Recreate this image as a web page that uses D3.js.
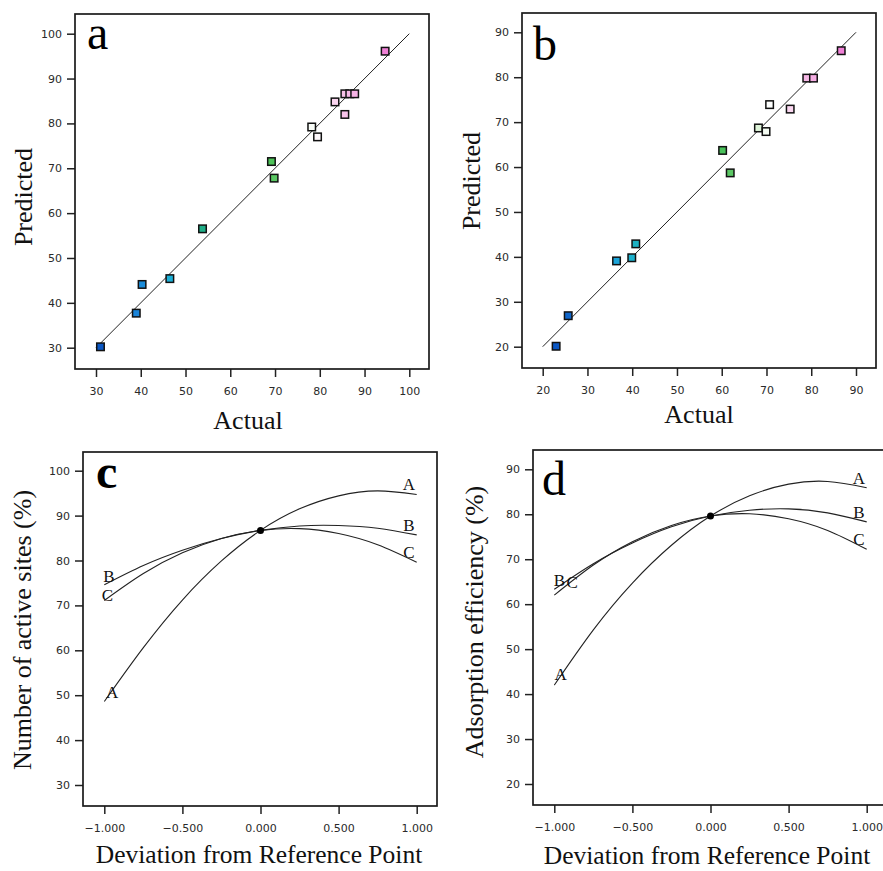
<!DOCTYPE html>
<html>
<head>
<meta charset="utf-8">
<script src="https://cdn.jsdelivr.net/npm/d3@7"></script>
<style>
  body { margin: 0; background: #fff; }
  .tick text { font-family: "DejaVu Sans", sans-serif; font-size: 11px; fill: #2a2a2a; }
  .tick line { stroke: #222; stroke-width: 1.5; }
  .title { font-family: "Liberation Serif", "Times New Roman", serif; font-size: 26px; fill: #111; }
  .letter { font-family: "Liberation Serif", "Times New Roman", serif; font-size: 48px; fill: #000; }
  .clabel { font-family: "Liberation Serif", "Times New Roman", serif; font-size: 17px; fill: #111; }
</style>
</head>
<body>
<script>
// DATA ------------------------------
// panel a : actual vs predicted
const actualA    = [31.0, 39.0, 40.3, 46.5, 53.8, 69.2, 69.8, 78.2, 79.5, 83.4, 85.6, 85.6, 86.7, 87.8, 94.6];
const predictedA = [30.2, 37.7, 44.1, 45.4, 56.5, 71.5, 67.8, 79.2, 77.0, 84.8, 82.0, 86.6, 86.6, 86.6, 96.1];
const fitA = [30, 100];
const ticksA = [30, 40, 50, 60, 70, 80, 90, 100];

// panel b : actual vs predicted
const actualB    = [23.0, 25.7, 36.5, 39.9, 40.8, 60.2, 61.9, 68.2, 69.9, 70.7, 75.3, 79.0, 80.5, 86.7];
const predictedB = [20.1, 26.9, 39.1, 39.8, 42.9, 63.7, 58.7, 68.7, 67.9, 73.9, 72.9, 79.8, 79.8, 85.9];
const fitB = [20, 90];
const ticksB = [20, 30, 40, 50, 60, 70, 80, 90];

// panels c, d : perturbation curves
const deviation = [-1, -0.75, -0.5, -0.25, 0, 0.25, 0.5, 0.75, 1];
const sitesA = [48.6, 60.6, 71.2, 79.9, 86.7, 91.5, 94.4, 95.5, 94.7];
const sitesB = [74.6, 78.9, 82.3, 84.9, 86.7, 87.7, 87.8, 87.2, 85.7];
const sitesC = [71.1, 77.1, 81.7, 84.9, 86.7, 87.1, 86.0, 83.5, 79.6];
const effA = [42.0, 54.3, 64.7, 73.1, 79.6, 84.1, 86.7, 87.3, 85.9];
const effB = [63.3, 69.0, 73.6, 77.2, 79.6, 80.9, 81.2, 80.3, 78.3];
const effC = [62.0, 68.7, 73.9, 77.5, 79.6, 80.1, 79.0, 76.4, 72.2];
const factors = ["A", "B", "C"];
const ticksDev = [-1, -0.5, 0, 0.5, 1];
const ticksSites = [30, 40, 50, 60, 70, 80, 90, 100];
const ticksEff = [20, 30, 40, 50, 60, 70, 80, 90];

// CHART ------------------------------
const svg = d3.select("body").append("svg")
    .attr("width", 883)
    .attr("height", 871);

svg.append("rect").attr("width", 883).attr("height", 871).attr("fill", "#fff");

// colour gradient used for the design points (low -> high)
const pointColor = d3.scaleLinear()
    .domain([0, 0.13, 0.25, 0.36, 0.6, 0.7, 0.75, 0.85, 1])
    .range(["#0b57c4", "#1a86da", "#1cb2d8", "#1fae86", "#4cc257", "#d6f2d0", "#ffffff", "#f8c6ea", "#ef80d6"]);

function drawFrame(f) {
    const g = svg.append("g");
    // axes
    g.append("g")
        .attr("transform", `translate(0,${f.frame[3]})`)
        .call(d3.axisBottom(f.x).tickValues(f.xTicks).tickSize(8).tickSizeOuter(0).tickFormat(f.xFmt || d3.format("d")))
        .call(a => a.select(".domain").remove())
        .call(a => a.selectAll("text").attr("y", 26).attr("dy", null));
    g.append("g")
        .attr("transform", `translate(${f.frame[0]},0)`)
        .call(d3.axisLeft(f.y).tickValues(f.yTicks).tickSize(8).tickSizeOuter(0).tickPadding(5).tickFormat(d3.format("d")))
        .call(a => a.select(".domain").remove());
    // box
    g.append("rect")
        .attr("x", f.frame[0]).attr("y", f.frame[1])
        .attr("width", f.frame[2] - f.frame[0]).attr("height", f.frame[3] - f.frame[1])
        .attr("fill", "none").attr("stroke", "#1a1a1a").attr("stroke-width", 1.7);
    // letter
    g.append("text").attr("class", "letter")
        .attr("x", f.letter[1]).attr("y", f.letter[2])
        .style("font-weight", f.letterBold ? "bold" : null)
        .text(f.letter[0]);
    // titles
    g.append("text").attr("class", "title")
        .attr("x", f.xTitle[1]).attr("y", f.xTitle[2])
        .attr("text-anchor", "middle")
        .style("font-size", f.xTitle[3] || null)
        .text(f.xTitle[0]);
    g.append("text").attr("class", "title")
        .attr("transform", `translate(${f.yTitle[1]},${f.yTitle[2]}) rotate(-90)`)
        .attr("text-anchor", "middle")
        .text(f.yTitle[0]);
    return g;
}

function parityPanel(f, actual, predicted, fit) {
    const g = drawFrame(f);
    g.append("line")
        .attr("x1", f.x(fit[0])).attr("y1", f.y(fit[0]))
        .attr("x2", f.x(fit[1])).attr("y2", f.y(fit[1]))
        .attr("stroke", "#222").attr("stroke-width", 1);
    const ext = d3.extent(actual);
    const t = d3.scaleLinear().domain(ext).range([0, 1]);
    const s = 7.5;
    g.selectAll("rect.pt")
        .data(actual.map((a, i) => ({a: a, p: predicted[i]})))
        .enter()
        .append("rect")
        .attr("class", "pt")
        .attr("x", d => f.x(d.a) - s / 2)
        .attr("y", d => f.y(d.p) - s / 2)
        .attr("width", s).attr("height", s)
        .attr("fill", d => pointColor(t(d.a)))
        .attr("stroke", "#111").attr("stroke-width", 1.5);
}

function tracePanel(f, series, leftPos, rightPos) {
    const g = drawFrame(f);
    const line = d3.line()
        .x((d, i) => f.x(deviation[i]))
        .y(d => f.y(d))
        .curve(d3.curveNatural);
    series.forEach((vals, k) => {
        g.append("path")
            .attr("d", line(vals))
            .attr("fill", "none").attr("stroke", "#222").attr("stroke-width", 1.1);
        // right-hand label
        g.append("text").attr("class", "clabel")
            .attr("x", f.x(rightPos[k])).attr("y", f.y(vals[vals.length - 1]) - 4)
            .attr("text-anchor", "middle").text(factors[k]);
        // left-hand label
        g.append("text").attr("class", "clabel")
            .attr("x", f.x(leftPos[k][0])).attr("y", f.y(vals[0]) + leftPos[k][1])
            .attr("text-anchor", "middle").text(factors[k]);
    });
    g.append("circle")
        .attr("cx", f.x(0)).attr("cy", f.y(series[0][4]))
        .attr("r", 3.5).attr("fill", "#000");
}

// panel a
parityPanel({
    frame: [75, 14, 429, 369],
    x: d3.scaleLinear().domain([30, 100]).range([96, 409.3]),
    y: d3.scaleLinear().domain([30, 100]).range([347.7, 33.7]),
    xTicks: ticksA, yTicks: ticksA,
    letter: ["a", 87, 49],
    xTitle: ["Actual", 248, 429],
    yTitle: ["Predicted", 32, 197]
}, actualA, predictedA, fitA);

// panel b
parityPanel({
    frame: [522, 13, 876, 368],
    x: d3.scaleLinear().domain([20, 90]).range([542.7, 856]),
    y: d3.scaleLinear().domain([20, 90]).range([346.7, 32.3]),
    xTicks: ticksB, yTicks: ticksB,
    letter: ["b", 533, 60],
    xTitle: ["Actual", 699, 423],
    yTitle: ["Predicted", 480, 181]
}, actualB, predictedB, fitB);

// panel c
tracePanel({
    frame: [83, 452, 437, 806],
    x: d3.scaleLinear().domain([-1, 1]).range([104.3, 416.7]),
    y: d3.scaleLinear().domain([30, 100]).range([785, 470.7]),
    xTicks: ticksDev, yTicks: ticksSites, xFmt: d3.format(".3f"),
    letter: ["c", 96, 488], letterBold: true,
    xTitle: ["Deviation from Reference Point", 259, 863, "25.5px"],
    yTitle: ["Number of active sites (%)", 31, 630]
}, [sitesA, sitesB, sitesC], [[-0.95, -3], [-0.97, -3], [-0.98, 1]], [0.95, 0.95, 0.95]);

// panel d
tracePanel({
    frame: [533, 450, 887, 805],
    x: d3.scaleLinear().domain([-1, 1]).range([554.3, 866.7]),
    y: d3.scaleLinear().domain([20, 90]).range([784, 469.3]),
    xTicks: ticksDev, yTicks: ticksEff, xFmt: d3.format(".3f"),
    letter: ["d", 542, 495],
    xTitle: ["Deviation from Reference Point", 707, 864, "25.5px"],
    yTitle: ["Adsorption efficiency (%)", 483, 622]
}, [effA, effB, effC], [[-0.96, -5], [-0.968, -3], [-0.885, -7]], [0.95, 0.95, 0.95]);
</script>
</body>
</html>
